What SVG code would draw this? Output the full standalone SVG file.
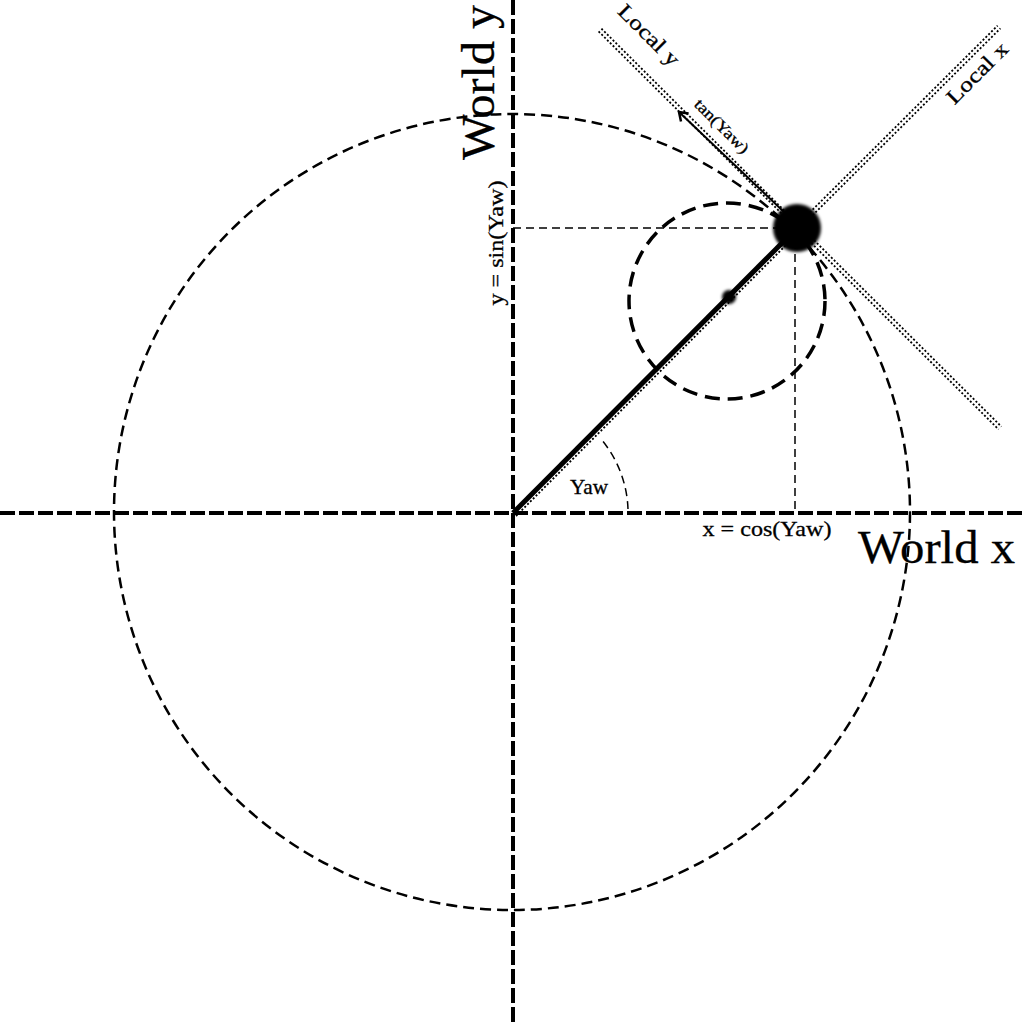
<svg xmlns="http://www.w3.org/2000/svg" width="1024" height="1024" viewBox="0 0 1024 1024">
<style>
.axis{stroke:#000;stroke-width:4;stroke-dasharray:15 4;fill:none}
.big{stroke:#000;stroke-width:2.5;stroke-dasharray:11 6;fill:none}
.small{stroke:#000;stroke-width:3.5;stroke-dasharray:15 8;fill:none}
.proj{stroke:#000;stroke-width:1.5;stroke-dasharray:8 5;fill:none}
.dot{stroke:#000;stroke-width:1.8;stroke-dasharray:2 2;fill:none}
.t{font-family:"Liberation Serif",serif;fill:#000;stroke:#000;stroke-width:0.3}
</style>
<defs>
<filter id="blur" x="-50%" y="-50%" width="200%" height="200%"><feGaussianBlur stdDeviation="1.5"/></filter>
<marker id="arr" markerWidth="14" markerHeight="14" refX="10" refY="7" orient="auto" markerUnits="userSpaceOnUse">
<path d="M2 1.5 L10 7 L2 12.5" fill="none" stroke="#000" stroke-width="2.5"/>
</marker>
</defs>
<rect width="1024" height="1024" fill="#fff"/>
<g id="connectors">
<line class="axis" x1="0" y1="513" x2="1024" y2="513"/>
<line class="axis" x1="513" y1="0" x2="513" y2="1024"/>
<circle id="unit-circle" class="big" cx="512" cy="512" r="398"/>
<circle id="small-circle" class="small" cx="727" cy="301" r="98"/>
<line class="proj" x1="513" y1="228" x2="795" y2="228"/>
<line class="proj" x1="795" y1="228" x2="795" y2="513"/>
<path class="proj" d="M628 509 A115 115 0 0 0 601 439"/>
<line class="dot" x1="516" y1="516" x2="800" y2="231"/>
<line x1="513" y1="513" x2="797" y2="228" stroke="#000" stroke-width="5"/>
<line class="dot" x1="598.6" y1="31.4" x2="998.6" y2="429.4"/>
<line class="dot" x1="601.4" y1="28.6" x2="1001.4" y2="426.6"/>
<line class="dot" x1="795.6" y1="226.6" x2="997.6" y2="25.6"/>
<line class="dot" x1="798.4" y1="229.4" x2="1000.4" y2="28.4"/>
<line x1="784" y1="212" x2="679" y2="112" stroke="#000" stroke-width="2" marker-end="url(#arr)"/>
</g>
<g id="point">
<circle cx="797" cy="228" r="24" fill="#000" filter="url(#blur)"/>
</g>
<g id="center-dot">
<circle cx="729" cy="297" r="7" fill="#000" filter="url(#blur)"/>
</g>
<g id="labels">
<text class="t" font-size="46" textLength="155" lengthAdjust="spacingAndGlyphs" transform="translate(494,160) rotate(-90)">World y</text>
<text class="t" font-size="46" textLength="157" lengthAdjust="spacingAndGlyphs" x="858" y="563">World x</text>
<text class="t" font-size="21" text-anchor="middle" textLength="125" lengthAdjust="spacingAndGlyphs" transform="translate(503,243) rotate(-90)">y = sin(Yaw)</text>
<text class="t" font-size="21" text-anchor="middle" textLength="129" lengthAdjust="spacingAndGlyphs" x="767" y="536">x = cos(Yaw)</text>
<text class="t" font-size="21" text-anchor="middle" textLength="38" lengthAdjust="spacingAndGlyphs" x="589" y="494">Yaw</text>
<text class="t" font-size="21" text-anchor="middle" textLength="78" lengthAdjust="spacingAndGlyphs" transform="translate(644,40) rotate(45)">Local y</text>
<text class="t" font-size="21" text-anchor="middle" textLength="78" lengthAdjust="spacingAndGlyphs" transform="translate(982,78) rotate(-45)">Local x</text>
<text class="t" font-size="16" text-anchor="middle" textLength="70" lengthAdjust="spacingAndGlyphs" transform="translate(718,130) rotate(45)">tan(Yaw)</text>
</g>
</svg>
